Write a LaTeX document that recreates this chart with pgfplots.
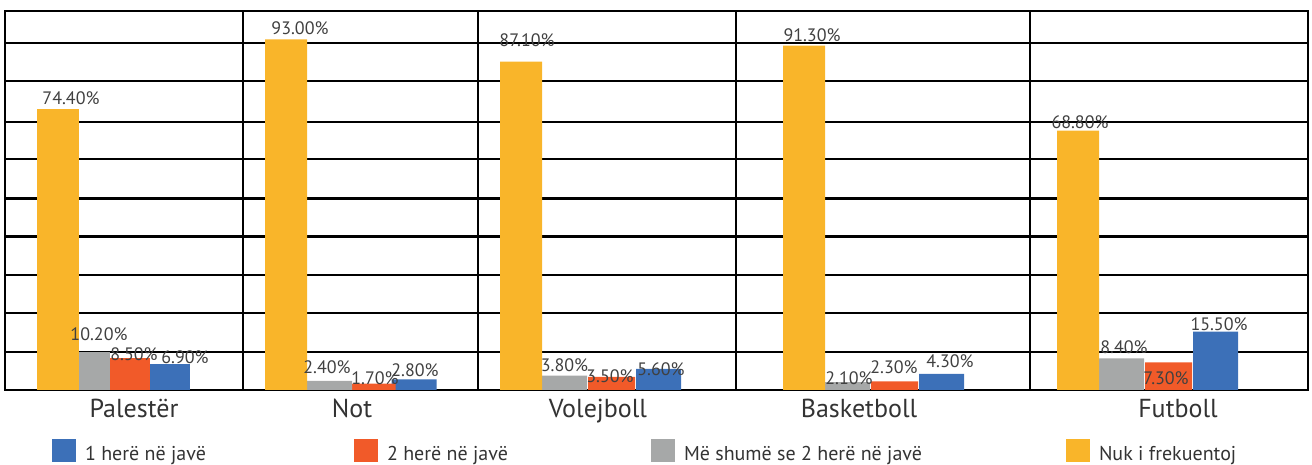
\documentclass[border=0pt]{standalone}
\usepackage{fontspec}
\setmainfont{PT Sans}
\usepackage{pgfplots}
\pgfplotsset{compat=1.18}
\usepackage{pgfplotstable}

\definecolor{cblue}{HTML}{3C70B8}
\definecolor{corange}{HTML}{F15A29}
\definecolor{cgray}{HTML}{A6A8A8}
\definecolor{cyellow}{HTML}{F9B52A}

% x in pixel columns of the original, dx/dy = label offset in px
\pgfplotstableread{
x y dx dy
414 2.8 1 9
658.5 5.6 2.5 0
941.5 4.3 8.5 13
1215.5 15.5 3.5 7
}\blue
\pgfplotstableread{
x y dx dy
372 1.7 3 5
611.5 3.5 -1.5 1
894.5 2.3 -0.5 14
1168.5 7.3 -2.5 -16
}\orange
\pgfplotstableread{
x y dx dy
329.5 2.4 -2.5 14
564.5 3.8 0 10
847.5 2.1 1.5 4
1121.5 8.4 2.5 11
}\gray
\pgfplotstableread{
x y dx dy
286 93.0 14 11
521 87.1 6 21
804 91.3 8 11
1078 68.8 2 8
}\yellow
% Palester group (narrower bars)
\pgfplotstableread{
x y dx dy
170 6.9 15 7
}\blueP
\pgfplotstableread{
x y dx dy
130 8.5 4 4
}\orangeP
\pgfplotstableread{
x y dx dy
94.5 10.2 4.5 17
}\grayP
\pgfplotstableread{
x y dx dy
58 74.4 13 11
}\yellowP

\begin{document}
\begin{tikzpicture}
\useasboundingbox (0,0) rectangle (656pt,232.5pt);
\begin{axis}[
    at={(2.5pt,37.5pt)}, anchor=south west,
    scale only axis,
    width=651.5pt, height=189.5pt,
    xmin=5, xmax=1308,
    ymin=0, ymax=100.5,
    ybar,
    axis line style={black, line width=1.1pt},
    xtick={5,243,478,736,1030,1308}, xticklabels={},
    ytick={0,10.1,20.5,30.6,40.7,50.8,61.2,71,82,92,100.5}, yticklabels={},
    xmajorgrids, ymajorgrids,
    grid style={black, line width=1.1pt},
    major tick length=0pt,
    extra x ticks={134,352,598,859,1178},
    extra x tick labels={Palestër,Not,Volejboll,Basketboll,Futboll},
    extra x tick style={grid=none, major tick length=0pt,
        tick label style={font=\fontsize{13}{15}\selectfont, text=black!80, inner sep=0pt, yshift=-4.5pt}},
    visualization depends on={\thisrow{dx} \as \dx},
    visualization depends on={\thisrow{dy} \as \dy},
    nodes near coords={\pgfmathprintnumber[fixed,fixed zerofill,precision=2,assume math mode=true]{\pgfplotspointmeta}\%},
    every node near coord/.append style={font=\fontsize{9}{10}\selectfont, text=black!75,
        anchor=center, xshift=\dx*0.5pt, yshift=\dy*0.5pt},
    legend columns=4,
    legend style={at={(0.0361,-0.1305)}, anchor=north west, draw=none, fill=none,
        inner sep=0pt, outer sep=0pt, nodes={inner sep=0pt},
        font=\fontsize{10}{12}\selectfont, text=black!80},
    legend image code/.code={\fill[#1] (0pt,-4pt) rectangle (12pt,7.5pt); \path (16.5pt,0pt);},
]
\addplot[fill=cblue, draw=none, bar shift=0pt, bar width=45] table[x=x,y=y] {\blue};
\addlegendentry{\makebox[134.5pt][l]{1 herë në javë}}
\addplot[fill=corange, draw=none, bar shift=0pt, bar width=47] table[x=x,y=y] {\orange};
\addlegendentry{\makebox[132pt][l]{2 herë në javë}}
\addplot[fill=cgray, draw=none, bar shift=0pt, bar width=45] table[x=x,y=y] {\gray};
\addlegendentry{\makebox[191pt][l]{Më shumë se 2 herë në javë}}
\addplot[fill=cyellow, draw=none, bar shift=0pt, bar width=42] table[x=x,y=y] {\yellow};
\addlegendentry{Nuk i frekuentoj}

\addplot[fill=cblue, draw=none, bar shift=0pt, bar width=40, forget plot] table[x=x,y=y] {\blueP};
\addplot[fill=corange, draw=none, bar shift=0pt, bar width=40, forget plot] table[x=x,y=y] {\orangeP};
\addplot[fill=cgray, draw=none, bar shift=0pt, bar width=31, forget plot] table[x=x,y=y] {\grayP};
\addplot[fill=cyellow, draw=none, bar shift=0pt, bar width=42, forget plot] table[x=x,y=y] {\yellowP};
\end{axis}
\end{tikzpicture}
\end{document}
